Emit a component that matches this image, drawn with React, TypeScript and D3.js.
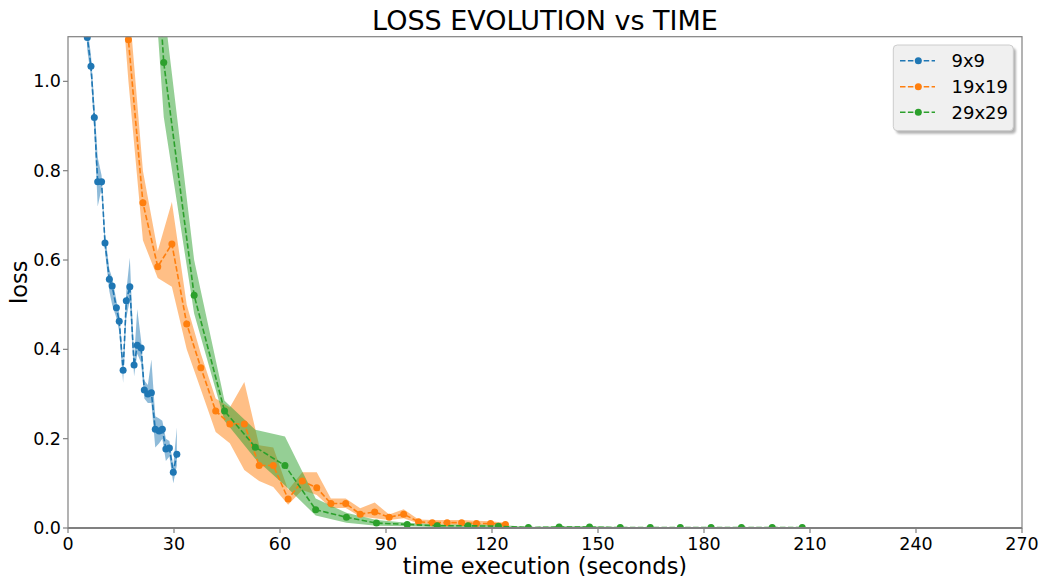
import React from "react";
import * as d3 from "d3";

// ---- data ----
const xTicks = [0, 30, 60, 90, 120, 150, 180, 210, 240, 270];
const yTicks = [0.0, 0.2, 0.4, 0.6, 0.8, 1.0];

const seriesNames = ["9x9", "19x19", "29x29"];
const seriesColors = ["#1f77b4", "#ff7f0e", "#2ca02c"];

const t9 = [4.4, 5.46, 6.5, 7.45, 8.4, 9.5, 10.47, 11.7, 12.5, 13.7, 14.5, 15.6, 16.5, 17.5, 18.7, 19.6, 20.7, 21.6, 22.6, 23.6, 24.7, 25.8, 26.7, 27.7, 28.7, 29.8, 30.8];
const loss9 = [1.3, 1.098, 1.034, 0.919, 0.775, 0.775, 0.638, 0.557, 0.542, 0.493, 0.463, 0.353, 0.509, 0.54, 0.365, 0.409, 0.403, 0.309, 0.3, 0.303, 0.221, 0.217, 0.221, 0.177, 0.179, 0.125, 0.165];
const lo9 = [1.25, 1.07, 1.01, 0.89, 0.72, 0.76, 0.62, 0.53, 0.5, 0.47, 0.44, 0.325, 0.47, 0.51, 0.34, 0.39, 0.37, 0.29, 0.28, 0.28, 0.18, 0.19, 0.2, 0.15, 0.16, 0.1, 0.14];
const hi9 = [1.35, 1.12, 1.06, 0.95, 0.83, 0.79, 0.66, 0.58, 0.56, 0.51, 0.48, 0.37, 0.53, 0.605, 0.38, 0.49, 0.42, 0.33, 0.32, 0.377, 0.25, 0.245, 0.24, 0.2, 0.195, 0.14, 0.225];

const t19 = [13.0, 17.1, 21.2, 25.4, 29.4, 33.6, 37.6, 41.8, 45.8, 49.9, 54.1, 58.1, 62.3, 66.3, 70.4, 74.4, 78.6, 82.7, 86.8, 90.9, 95.0, 99.2, 103.1, 107.3, 111.4, 115.6, 119.6, 123.8];
const loss19 = [1.6, 1.093, 0.728, 0.585, 0.636, 0.457, 0.359, 0.262, 0.233, 0.233, 0.14, 0.14, 0.065, 0.105, 0.09, 0.055, 0.055, 0.031, 0.036, 0.024, 0.031, 0.014, 0.012, 0.012, 0.012, 0.01, 0.01, 0.008];
const lo19 = [1.42, 1.0, 0.644, 0.56, 0.54, 0.4, 0.31, 0.215, 0.19, 0.13, 0.105, 0.092, 0.052, 0.085, 0.074, 0.045, 0.045, 0.025, 0.022, 0.018, 0.022, 0.01, 0.007, 0.007, 0.007, 0.006, 0.006, 0.005];
const hi19 = [1.78, 1.19, 0.8, 0.62, 0.73, 0.5, 0.39, 0.29, 0.27, 0.327, 0.185, 0.18, 0.085, 0.125, 0.125, 0.066, 0.066, 0.044, 0.057, 0.03, 0.042, 0.019, 0.018, 0.018, 0.018, 0.016, 0.015, 0.012];

const t29 = [18.5, 27.1, 35.7, 44.3, 53.0, 61.4, 70.1, 78.8, 87.3, 96.0, 104.5, 113.2, 121.8, 130.3, 139.0, 147.6, 156.3, 164.8, 173.3, 182.0, 190.6, 199.3, 207.8];
const loss29 = [2.1, 1.042, 0.521, 0.262, 0.181, 0.14, 0.041, 0.024, 0.011, 0.008, 0.005, 0.005, 0.004, 0.001, 0.002, 0.002, 0.001, 0.001, 0.001, 0.001, 0.001, 0.001, 0.001];
const lo29 = [1.9, 0.92, 0.48, 0.24, 0.155, 0.095, 0.028, 0.012, 0.005, 0.004, 0.002, 0.002, 0.002, 0.0, 0.0, 0.0, 0.0, 0.0, 0.0, 0.0, 0.0, 0.0, 0.0];
const hi29 = [2.4, 1.17, 0.6, 0.285, 0.22, 0.205, 0.066, 0.034, 0.018, 0.012, 0.008, 0.008, 0.007, 0.002, 0.004, 0.004, 0.002, 0.002, 0.002, 0.002, 0.002, 0.002, 0.002];

const seriesT = [t9, t19, t29];
const seriesLoss = [loss9, loss19, loss29];
const seriesLo = [lo9, lo19, lo29];
const seriesHi = [hi9, hi19, hi29];

// ---- layout ----
const W = 1042;
const H = 576;
const left = 68;
const right = 1022;
const top = 36.7;
const bottom = 528;
const FONT = "DejaVu Sans, sans-serif";

export default function App() {
  const x = d3.scaleLinear().domain([0, 270]).range([left, right]);
  const y = d3.scaleLinear().domain([0, 1.1]).range([bottom, top]);

  const series = seriesNames.map((name, i) => {
    const pts = seriesT[i].map((t, j) => ({
      t,
      v: seriesLoss[i][j],
      lo: seriesLo[i][j],
      hi: seriesHi[i][j],
    }));
    return { name, color: seriesColors[i], pts };
  });

  const area = d3
    .area<{ t: number; lo: number; hi: number }>()
    .x((d) => x(d.t))
    .y0((d) => y(d.lo))
    .y1((d) => y(d.hi));
  const line = d3
    .line<{ t: number; v: number }>()
    .x((d) => x(d.t))
    .y((d) => y(d.v));

  const axisColor = "#808080";
  const legendRows = [60.7, 86.7, 112.2];

  return (
    <svg
      width={W}
      height={H}
      style={{ position: "absolute", left: 0, top: 0, background: "#fff" }}
      fontFamily={FONT}
    >
      <defs>
        <clipPath id="plotclip">
          <rect x={left} y={top} width={right - left} height={bottom - top} />
        </clipPath>
        <filter id="shadowblur" x="-10%" y="-10%" width="120%" height="120%">
          <feGaussianBlur stdDeviation="0.8" />
        </filter>
      </defs>
      <rect x={0} y={0} width={W} height={H} fill="#fff" />

      <g clipPath="url(#plotclip)">
        {series.map((s) => (
          <path key={s.name + "band"} d={area(s.pts) || ""} fill={s.color} fillOpacity={0.5} stroke="none" />
        ))}
        {series.map((s) => (
          <g key={s.name + "line"}>
            <path
              d={line(s.pts) || ""}
              fill="none"
              stroke={s.color}
              strokeWidth={1.6}
              strokeDasharray="5.5,2.4"
            />
            {s.pts.map((p, j) => (
              <circle key={j} cx={x(p.t)} cy={y(p.v)} r={3.5} fill={s.color} />
            ))}
          </g>
        ))}
      </g>

      {/* frame */}
      <rect x={left} y={top} width={right - left} height={bottom - top} fill="none" stroke={axisColor} strokeWidth={1.2} />
      <line x1={left} x2={right} y1={bottom} y2={bottom} stroke={axisColor} strokeWidth={2} />

      {/* x ticks */}
      {xTicks.map((t) => (
        <g key={"x" + t}>
          <line x1={x(t)} x2={x(t)} y1={bottom} y2={bottom + 5} stroke={axisColor} strokeWidth={1.2} />
          <text x={x(t)} y={bottom + 22} textAnchor="middle" fontSize={17.5} fill="#000">
            {t}
          </text>
        </g>
      ))}
      {/* y ticks */}
      {yTicks.map((t) => (
        <g key={"y" + t}>
          <line x1={left - 5} x2={left} y1={y(t)} y2={y(t)} stroke={axisColor} strokeWidth={1.2} />
          <text x={left - 7} y={y(t) + 6} textAnchor="end" fontSize={17.5} fill="#000">
            {t.toFixed(1)}
          </text>
        </g>
      ))}

      {/* labels */}
      <text x={(left + right) / 2} y={29.5} textAnchor="middle" fontSize={27} fill="#000">
        LOSS EVOLUTION vs TIME
      </text>
      <text x={(left + right) / 2} y={573.5} textAnchor="middle" fontSize={22.5} fill="#000">
        time execution (seconds)
      </text>
      <text
        transform={`translate(27, ${(top + bottom) / 2}) rotate(-90)`}
        textAnchor="middle"
        fontSize={22.5}
        fill="#000"
      >
        loss
      </text>

      {/* legend */}
      <rect x={896} y={48} width={120} height={85.7} rx={4} fill="#555" opacity={0.45} filter="url(#shadowblur)" />
      <rect x={893.3} y={45} width={120} height={85.7} rx={4} fill="#f0f0f0" stroke="#cccccc" strokeWidth={1} />
      {series.map((s, i) => (
        <g key={s.name + "leg"}>
          <line
            x1={900}
            x2={935}
            y1={legendRows[i]}
            y2={legendRows[i]}
            stroke={s.color}
            strokeWidth={1.6}
            strokeDasharray="5.5,2.4"
          />
          <circle cx={918.3} cy={legendRows[i]} r={3.5} fill={s.color} />
          <text x={951.5} y={legendRows[i] + 6.5} fontSize={18} fill="#000">
            {s.name}
          </text>
        </g>
      ))}
    </svg>
  );
}
